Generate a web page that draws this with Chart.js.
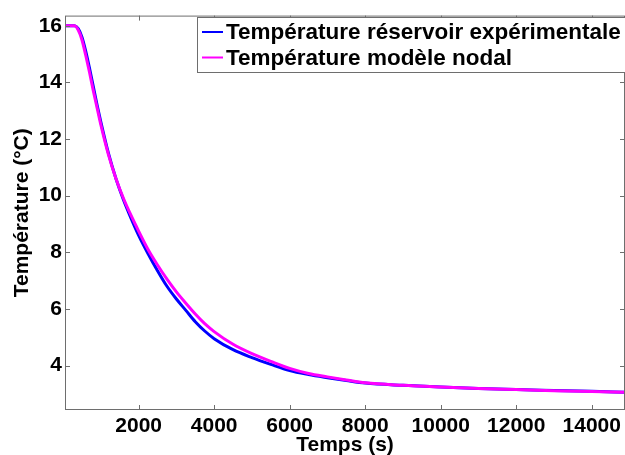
<!DOCTYPE html>
<html>
<head>
<meta charset="utf-8">
<script src="https://cdn.jsdelivr.net/npm/chart.js@4.4.1/dist/chart.umd.min.js"></script>
<style>
    html, body { margin: 0; padding: 0; background: #fff; }
    #wrap { width: 625px; height: 455px; }
</style>
</head>
<body>
<div id="wrap"><canvas id="chart" width="625" height="455"></canvas></div>
<script>
// Données (temps en s, température en °C)
const tempsExp = [50, 300, 400, 500, 600, 700, 800, 900, 1000, 1200, 1400, 1600, 1800, 2000, 2250, 2500, 2750, 3000, 3250, 3500, 3750, 4000, 4500, 5000, 5500, 6000, 6500, 7000, 7500, 8000, 9000, 10000, 11000, 12000, 13000, 14000, 14880];
const tempExp = [16.0, 16.0, 15.9, 15.6, 15.1, 14.5, 13.85, 13.2, 12.6, 11.5, 10.6, 9.85, 9.2, 8.6, 7.95, 7.35, 6.8, 6.35, 5.95, 5.55, 5.22, 4.95, 4.56, 4.28, 4.04, 3.82, 3.68, 3.57, 3.47, 3.38, 3.3, 3.24, 3.19, 3.15, 3.12, 3.09, 3.06];

const tempsModele = [50, 300, 400, 500, 600, 700, 800, 900, 1000, 1200, 1400, 1600, 1800, 2000, 2250, 2500, 2750, 3000, 3250, 3500, 3750, 4000, 4500, 5000, 5500, 6000, 6500, 7000, 7500, 8000, 9000, 10000, 11000, 12000, 13000, 14000, 14880];
const tempModele = [16.0, 16.0, 15.85, 15.5, 14.95, 14.35, 13.7, 13.1, 12.5, 11.45, 10.6, 9.9, 9.3, 8.75, 8.1, 7.55, 7.05, 6.6, 6.2, 5.82, 5.48, 5.2, 4.75, 4.42, 4.15, 3.9, 3.72, 3.6, 3.49, 3.39, 3.3, 3.24, 3.19, 3.15, 3.11, 3.08, 3.06];

const xTicks = [2000, 4000, 6000, 8000, 10000, 12000, 14000];
const yTicks = [4, 6, 8, 10, 12, 14, 16];

const labels = ['Température réservoir expérimentale', 'Température modèle nodal'];
const couleurs = ['#0000ff', '#ff00ff'];

const police = "'Liberation Sans', Arial, sans-serif";
const gris = '#6e6e6e';

function toPoints(xs, ys) {
    return xs.map((x, i) => ({ x: x, y: ys[i] }));
}

// Cadre, graduations vers l'intérieur et légende
const cadrePlugin = {
    id: 'cadre',
    afterDraw(chart) {
        const ctx = chart.ctx;
        const a = chart.chartArea;
        const sx = chart.scales.x;
        const sy = chart.scales.y;
        const tl = 5;

        ctx.save();
        ctx.strokeStyle = gris;
        ctx.lineWidth = 1;
        ctx.strokeRect(a.left + 0.5, a.top + 0.5, a.right - a.left - 1, a.bottom - a.top - 1);

        ctx.beginPath();
        xTicks.forEach(v => {
            const px = Math.round(sx.getPixelForValue(v)) + 0.5;
            ctx.moveTo(px, a.bottom); ctx.lineTo(px, a.bottom - tl);
            ctx.moveTo(px, a.top); ctx.lineTo(px, a.top + tl);
        });
        yTicks.forEach(v => {
            const py = Math.round(sy.getPixelForValue(v)) + 0.5;
            ctx.moveTo(a.left, py); ctx.lineTo(a.left + tl, py);
            ctx.moveTo(a.right, py); ctx.lineTo(a.right - tl, py);
        });
        ctx.stroke();

        // Légende
        const bx = 197, by = 17, bw = 430, bh = 55;
        ctx.fillStyle = '#fff';
        ctx.fillRect(bx, by, bw, bh);
        ctx.strokeRect(bx + 0.5, by + 0.5, bw, bh);
        const lignesY = [32, 57.5];
        ctx.font = 'bold 22.5px ' + police;
        ctx.textBaseline = 'middle';
        chart.data.datasets.forEach((ds, i) => {
            ctx.strokeStyle = ds.borderColor;
            ctx.lineWidth = 2;
            ctx.beginPath();
            ctx.moveTo(202, lignesY[i]);
            ctx.lineTo(223, lignesY[i]);
            ctx.stroke();
            ctx.fillStyle = '#000';
            ctx.fillText(ds.label, 226, lignesY[i] + 1);
        });
        ctx.restore();
    }
};

const ctx = document.getElementById('chart').getContext('2d');
new Chart(ctx, {
    type: 'line',
    data: {
        datasets: [
            {
                label: labels[0],
                data: toPoints(tempsExp, tempExp),
                borderColor: couleurs[0],
                borderWidth: 3,
                pointRadius: 0,
                cubicInterpolationMode: 'monotone',
                order: 2
            },
            {
                label: labels[1],
                data: toPoints(tempsModele, tempModele),
                borderColor: couleurs[1],
                borderWidth: 3,
                pointRadius: 0,
                cubicInterpolationMode: 'monotone',
                order: 1
            }
        ]
    },
    options: {
        responsive: false,
        animation: false,
        layout: { padding: { top: 13, right: 0, left: 0, bottom: 0 } },
        plugins: {
            legend: { display: false },
            tooltip: { enabled: false }
        },
        scales: {
            x: {
                type: 'linear',
                min: 50,
                max: 14880,
                grid: { display: false, drawTicks: false },
                border: { display: false },
                afterBuildTicks: s => { s.ticks = xTicks.map(v => ({ value: v })); },
                afterFit: s => { s.height = 45; },
                ticks: {
                    color: '#000',
                    font: { family: police, size: 21, weight: 'bold' },
                    padding: 4,
                    maxRotation: 0,
                    autoSkip: false,
                    callback: v => String(v)
                },
                title: {
                    display: true,
                    text: 'Temps (s)',
                    color: '#000',
                    font: { family: police, size: 21, weight: 'bold' },
                    padding: { top: 0, bottom: -3 }
                }
            },
            y: {
                min: 2.43,
                max: 16.36,
                grid: { display: false, drawTicks: false },
                border: { display: false },
                afterBuildTicks: s => { s.ticks = yTicks.map(v => ({ value: v })); },
                afterFit: s => { s.width = 65; },
                ticks: {
                    color: '#000',
                    font: { family: police, size: 21, weight: 'bold' },
                    padding: 3,
                    autoSkip: false,
                    callback: v => String(v)
                },
                title: {
                    display: true,
                    text: 'Température (°C)',
                    color: '#000',
                    font: { family: police, size: 21, weight: 'bold' },
                    padding: { top: 10, bottom: 0 }
                }
            }
        }
    },
    plugins: [cadrePlugin]
});
</script>
</body>
</html>
